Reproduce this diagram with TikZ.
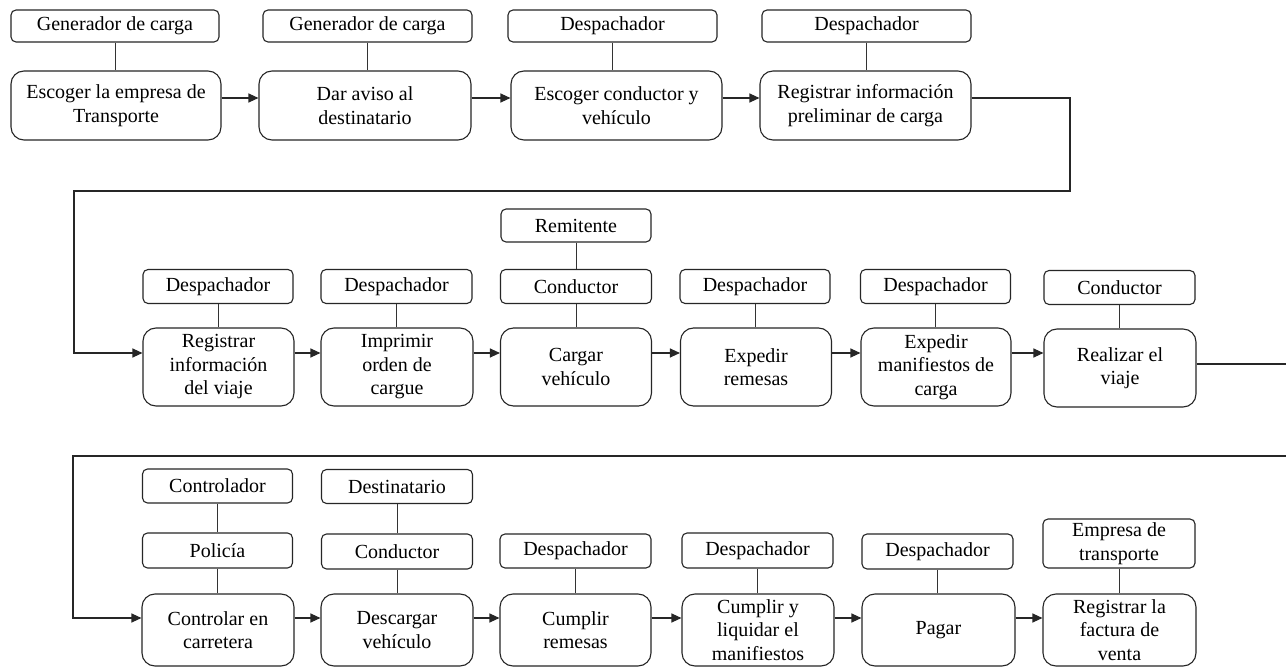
\documentclass[tikz,border=0pt]{standalone}
\usepackage{fontspec}
\setmainfont{Liberation Serif}
\usetikzlibrary{arrows.meta}
\begin{document}
\begin{tikzpicture}[x=1pt,y=-1pt,
  box/.style={draw=black!85, line width=1.1pt, align=center, inner sep=0pt,
    font=\fontsize{20}{23.5}\selectfont},
  role/.style={box, rounded corners=5pt},
  proc/.style={box, rounded corners=13pt},
  arr/.style={draw=black!85, line width=1.1pt, -{Triangle[length=10pt,width=9pt]}},
  link/.style={draw=black!80, line width=1pt},
  flow/.style={draw=black!85, line width=1.1pt}]
\useasboundingbox (0,0) rectangle (1286,668);
\fill[white] (0,0) rectangle (1286,668);

% ---------- row 1 ----------
\node[role, minimum width=208pt, minimum height=32pt] (r1) at (115,26) {Generador de carga};
\node[role, minimum width=209pt, minimum height=32pt] (r2) at (367.5,26) {Generador de carga};
\node[role, minimum width=209pt, minimum height=32pt] (r3) at (612.5,26) {Despachador};
\node[role, minimum width=209pt, minimum height=32pt] (r4) at (866.5,26) {Despachador};

\node[proc, minimum width=210pt, minimum height=69pt] (m1) at (116,105.5) {Escoger la empresa de\\Transporte};
\node[proc, minimum width=212pt, minimum height=69pt] (m2) at (365,105.5) {Dar aviso al\\destinatario};
\node[proc, minimum width=211pt, minimum height=69pt] (m3) at (616.5,105.5) {Escoger conductor y\\vehículo};
\node[proc, minimum width=211pt, minimum height=69pt] (m4) at (865.5,105.5) {Registrar información\\preliminar de carga};

% ---------- row 2 ----------
\node[role, minimum width=150pt, minimum height=33pt] (rem) at (576,225.5) {Remitente};
\node[role, minimum width=150pt, minimum height=34pt] (a1) at (218,286.5) {Despachador};
\node[role, minimum width=151pt, minimum height=34pt] (a2) at (396.5,286.5) {Despachador};
\node[role, minimum width=151pt, minimum height=34pt] (a3) at (576,286.5) {Conductor};
\node[role, minimum width=150pt, minimum height=34pt] (a4) at (755,286.5) {Despachador};
\node[role, minimum width=150pt, minimum height=34pt] (a5) at (935.5,286.5) {Despachador};
\node[role, minimum width=151pt, minimum height=34pt] (a6) at (1119.5,287.5) {Conductor};

\node[proc, minimum width=151pt, minimum height=78pt] (b1) at (218.5,367) {Registrar\\información\\del viaje};
\node[proc, minimum width=152pt, minimum height=78pt] (b2) at (397,367) {Imprimir\\orden de\\cargue};
\node[proc, minimum width=151pt, minimum height=78pt] (b3) at (576,367) {Cargar\\vehículo};
\node[proc, minimum width=151pt, minimum height=78pt] (b4) at (756,367) {Expedir\\remesas};
\node[proc, minimum width=150pt, minimum height=78pt] (b5) at (936,367) {Expedir\\manifiestos de\\carga};
\node[proc, minimum width=152pt, minimum height=78pt] (b6) at (1120,368) {Realizar el\\viaje};

% ---------- row 3 ----------
\node[role, minimum width=150pt, minimum height=34pt] (c1) at (217.5,486) {Controlador};
\node[role, minimum width=151pt, minimum height=34pt] (c2) at (397,486.5) {Destinatario};

\node[role, minimum width=150pt, minimum height=35pt] (p1) at (217.5,550.5) {Policía};
\node[role, minimum width=151pt, minimum height=35pt] (p2) at (397,551.5) {Conductor};
\node[role, minimum width=151pt, minimum height=34pt] (p3) at (575.5,551) {Despachador};
\node[role, minimum width=151pt, minimum height=35pt] (p4) at (757.5,550.5) {Despachador};
\node[role, minimum width=151pt, minimum height=35pt] (p5) at (937.5,551.5) {Despachador};
\node[role, minimum width=152pt, minimum height=49pt] (p6) at (1119,543.5) {Empresa de\\transporte};

\node[proc, minimum width=152pt, minimum height=72pt] (d1) at (218,630) {Controlar en\\carretera};
\node[proc, minimum width=152pt, minimum height=72pt] (d2) at (397,630) {Descargar\\vehículo};
\node[proc, minimum width=151pt, minimum height=72pt] (d3) at (575.5,630) {Cumplir\\remesas};
\node[proc, minimum width=152pt, minimum height=72pt] (d4) at (758,630) {Cumplir y\\liquidar el\\manifiestos};
\node[proc, minimum width=153pt, minimum height=72pt] (d5) at (938.5,630) {Pagar};
\node[proc, minimum width=153pt, minimum height=72pt] (d6) at (1119.5,630) {Registrar la\\factura de\\venta};

% ---------- helper coordinates ----------
\coordinate (rowA) at (0,98);
\coordinate (rowB) at (0,353);
\coordinate (rowC) at (0,618);
\coordinate (turnA1) at (1070,98);
\coordinate (turnA2) at (1070,191);
\coordinate (turnA3) at (74,191);
\coordinate (turnA4) at (74,353);
\coordinate (exitR) at (1286,364);
\coordinate (entR) at (1286,456);
\coordinate (turnB1) at (73,456);
\coordinate (turnB2) at (73,618);

% ---------- role links ----------
\foreach \r/\m in {r1/m1,r2/m2,r3/m3,r4/m4,rem/a3,a1/b1,a2/b2,a3/b3,a4/b4,a5/b5,a6/b6,
                   c1/p1,c2/p2,p1/d1,p2/d2,p3/d3,p4/d4,p5/d5,p6/d6}
  \draw[link] (\r.south) -- (\r.south |- \m.north);

% ---------- flow arrows ----------
\draw[arr] (m1.east |- rowA) -- (m2.west |- rowA);
\draw[arr] (m2.east |- rowA) -- (m3.west |- rowA);
\draw[arr] (m3.east |- rowA) -- (m4.west |- rowA);
\draw[arr] (m4.east |- rowA) -- (turnA1) -- (turnA2) -- (turnA3) -- (turnA4) -- (b1.west |- rowB);

\draw[arr] (b1.east |- rowB) -- (b2.west |- rowB);
\draw[arr] (b2.east |- rowB) -- (b3.west |- rowB);
\draw[arr] (b3.east |- rowB) -- (b4.west |- rowB);
\draw[arr] (b4.east |- rowB) -- (b5.west |- rowB);
\draw[arr] (b5.east |- rowB) -- (b6.west |- rowB);
\draw[flow] (b6.east |- exitR) -- (exitR);

\draw[arr] (entR) -- (turnB1) -- (turnB2) -- (d1.west |- rowC);
\draw[arr] (d1.east |- rowC) -- (d2.west |- rowC);
\draw[arr] (d2.east |- rowC) -- (d3.west |- rowC);
\draw[arr] (d3.east |- rowC) -- (d4.west |- rowC);
\draw[arr] (d4.east |- rowC) -- (d5.west |- rowC);
\draw[arr] (d5.east |- rowC) -- (d6.west |- rowC);
\end{tikzpicture}
\end{document}
